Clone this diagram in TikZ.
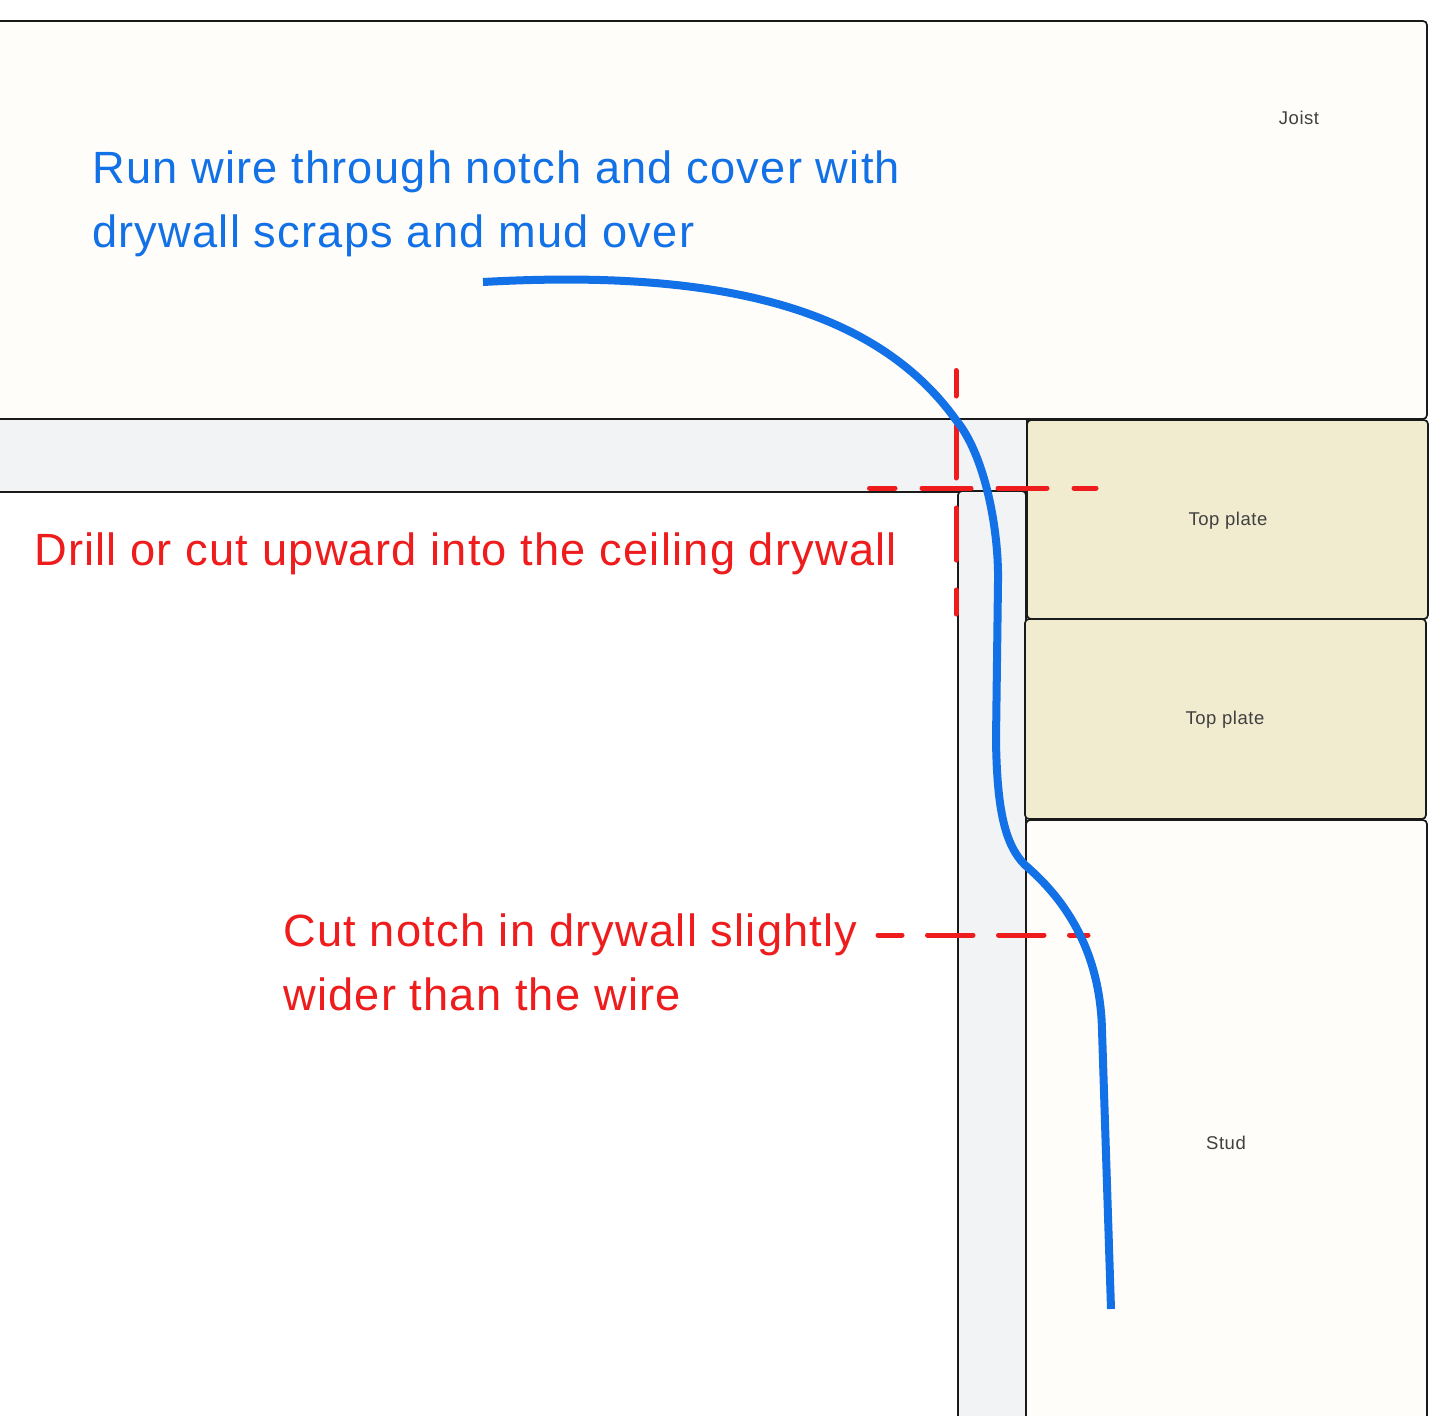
\documentclass[tikz,border=0pt]{standalone}
\usepackage{fontspec}
\setmainfont{Liberation Sans}
\newfontfamily\bigface[LetterSpace=2.7]{Liberation Sans}
\newfontfamily\smallface[LetterSpace=3]{Liberation Sans}
\definecolor{woodpale}{HTML}{FFFDF9}
\definecolor{woodyel}{HTML}{F1ECD0}
\definecolor{wallgrey}{HTML}{F1F3F5}
\definecolor{wireblue}{HTML}{1271E6}
\definecolor{markred}{HTML}{EE1C1C}
\definecolor{inkdark}{HTML}{1A1A1A}
\tikzset{
  part/.style={draw=inkdark,line width=1.7pt,rounded corners=4pt},
  smalllabel/.style={font=\smallface\fontsize{18.5}{22}\selectfont,text=black!75,inner sep=0pt,anchor=center},
  biglabel/.style={font=\bigface\fontsize{45.2}{64}\selectfont,inner sep=0pt,anchor=base west},
  redcut/.style={draw=markred,line width=5pt,line cap=round},
  wire/.style={draw=wireblue,line width=8pt}
}
\begin{document}
\begin{tikzpicture}[x=1pt,y=-1pt]
\useasboundingbox (0,0) rectangle (1452,1416);
\fill[white] (0,0) rectangle (1452,1416);
% parts
\path[part,fill=woodpale] (-20,21) rectangle (1427,419);
\path[part,fill=wallgrey,rounded corners=0pt] (-20,419) rectangle (1027,492);
\path[part,fill=wallgrey] (958,491) rectangle (1026,1440);
\path[part,fill=woodyel] (1027,420) rectangle (1428,619);
\path[part,fill=woodyel] (1025,619) rectangle (1426,819);
\path[part,fill=woodpale] (1026,820) rectangle (1427,1440);
% small labels
\node[smalllabel] (joist) at (1299,118) {Joist};
\node[smalllabel] (plateA) at (1228,521) {Top plate};
\node[smalllabel] (plateB) at (1225,720) {Top plate};
\node[smalllabel] (stud) at (1226,1143) {Stud};
% big labels
\node[biglabel,text=wireblue] (runA) at (92,183) {Run wire through notch and cover with};
\node[biglabel,text=wireblue] (runB) at (92,247) {drywall scraps and mud over};
\node[biglabel,text=markred] (drill) at (34,565) {Drill or cut upward into the ceiling drywall};
\node[biglabel,text=markred] (cutA) at (283,946) {Cut notch in drywall slightly};
\node[biglabel,text=markred] (cutB) at (283,1010) {wider than the wire};
% red dashes
\coordinate (vtop) at (956,370.5);
\coordinate (vend) at (956,614);
\coordinate (hleft) at (869.5,488);
\coordinate (hright) at (1096,488);
\coordinate (nleft) at (878,935);
\coordinate (nright) at (1088,935);
\draw[redcut,dash pattern=on 52pt off 30pt,dash phase=26.5pt] (vtop) -- (vend);
\draw[redcut,dash pattern=on 49pt off 27pt,dash phase=23.5pt] (hleft) -- (hright);
\draw[redcut,dash pattern=on 45.5pt off 25.5pt,dash phase=21.5pt] (nleft) -- (nright);
% wire
\coordinate (wstart) at (483,282);
\coordinate (wend) at (1111,1309);
\draw[wire] (wstart) .. controls (700,270) and (870,300) .. (956,420)
  .. controls (985,455) and (999,530) .. (998,582)
  -- (996,740)
  .. controls (997,810) and (1005,845) .. (1025,865)
  .. controls (1060,895) and (1100,945) .. (1102,1030)
  -- (wend);
\end{tikzpicture}
\end{document}
